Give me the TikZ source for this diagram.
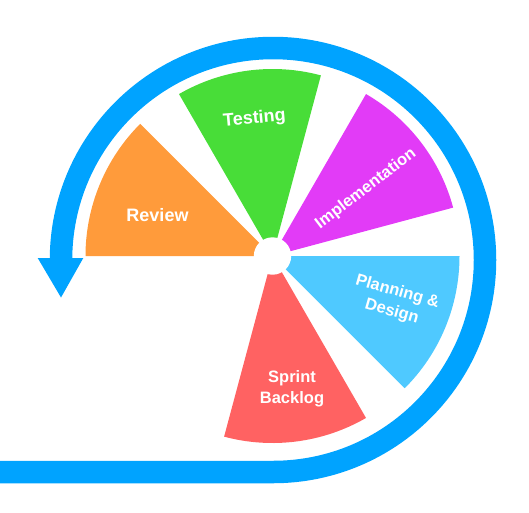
\documentclass[tikz,border=0pt]{standalone}
\usepackage{fontspec}
\setmainfont{Liberation Sans}
\definecolor{cOrange}{HTML}{FF9B3B}
\definecolor{cGreen}{HTML}{48DD38}
\definecolor{cMagenta}{HTML}{E23BF7}
\definecolor{cLight}{HTML}{4FC9FF}
\definecolor{cRed}{HTML}{FF6262}
\definecolor{cBlue}{HTML}{00A3FF}
\begin{document}
\begin{tikzpicture}[x=1pt,y=1pt,
  lbl/.style={text=white,inner sep=0pt,align=center,font=\fontsize{18}{21}\selectfont\bfseries},
  lbls/.style={lbl,font=\fontsize{16.5}{20.5}\selectfont\bfseries},
  ring/.style={line width=22.5pt,draw=cBlue}]
\useasboundingbox (0,0) rectangle (529,-512);
\coordinate (C) at (272.5,-256);
\def\R{187}
% sectors
\fill[cOrange] (C) -- ++(135:\R) arc[start angle=135,end angle=180,radius=\R] -- cycle;
\fill[cGreen] (C) -- ++(75:\R) arc[start angle=75,end angle=120,radius=\R] -- cycle;
\fill[cMagenta] (C) -- ++(15:\R) arc[start angle=15,end angle=60,radius=\R] -- cycle;
\fill[cLight] (C) -- ++(-45:\R) arc[start angle=-45,end angle=0,radius=\R] -- cycle;
\fill[cRed] (C) -- ++(-105:\R) arc[start angle=-105,end angle=-60,radius=\R] -- cycle;
\fill[white] (C) circle[radius=18.7];
% blue spiral arrow
\coordinate (S) at (0,-472);
\coordinate (B) at (273,-472);
\draw[ring] (S) -- (B) arc[start angle=-90,end angle=180,radius=212];
\coordinate (H1) at (37.7,-258);
\coordinate (H2) at (83.3,-258);
\coordinate (HT) at (61,-297.5);
\fill[cBlue] (H1) -- (H2) -- (HT) -- cycle;
% labels
\node[lbl] (review) at (157.5,-215) {Review};
\node[lbl,rotate=5] (testing) at (254.5,-119) {Testing};
\node[lbls,rotate=37.5] (impl) at (366,-189) {Implementation};
\node[lbls,rotate=-16] (plan) at (394.5,-302) {Planning \&\\Design};
\node[lbls] (sprint) at (292,-389) {Sprint\\Backlog};
\end{tikzpicture}
\end{document}
